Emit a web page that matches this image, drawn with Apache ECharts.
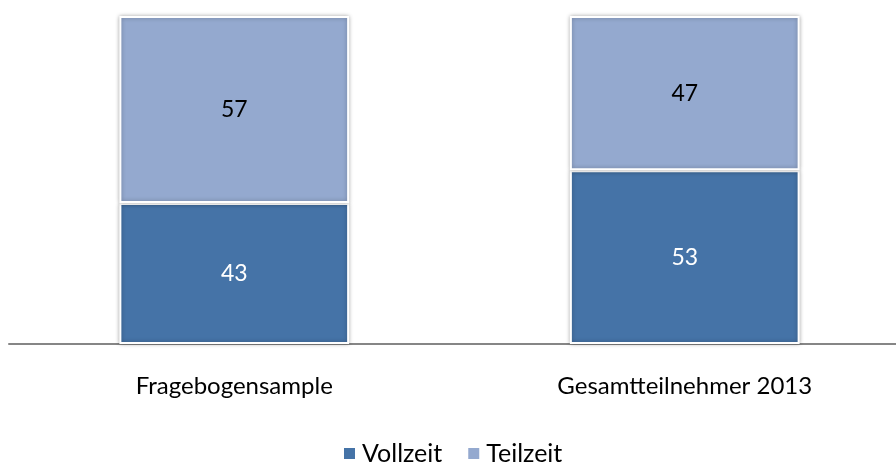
<!DOCTYPE html>
<html>
<head>
<meta charset="utf-8">
<script src="https://cdn.jsdelivr.net/npm/echarts@6/dist/echarts.min.js"></script>
<style>
	html, body { margin: 0; padding: 0; background: #fff; }
	#main { width: 896px; height: 465px; }
</style>
</head>
<body>
<div id="main"></div>
<script>
	// Daten
	let categories = ['Fragebogensample', 'Gesamtteilnehmer 2013'];
	let vollzeit = [43, 53];
	let teilzeit = [57, 47];
	let seriesNames = ['Vollzeit', 'Teilzeit'];

	let font = 'Lato, "Open Sans", sans-serif';
	let main = document.getElementById('main');
	let myChart = echarts.init(main);

	function barItem(color) {
		return {
			color: color,
			borderColor: '#fff',
			borderWidth: 2,
			shadowBlur: 4,
			shadowColor: 'rgba(0,0,0,0.3)'
		};
	}

	let option = {
		animation: false,
		grid: {
			left: 9,
			top: 16,
			width: 901,
			bottom: 121,
			outerBoundsMode: 'none',
			containLabel: false
		},
		legend: {
			bottom: -6,
			left: 337,
			itemWidth: 13,
			itemHeight: 13,
			itemGap: 24,
			icon: 'rect',
			textStyle: { fontFamily: font, fontSize: 25, color: '#000', padding: [0, 0, 0, 1] },
			data: seriesNames
		},
		xAxis: {
			type: 'category',
			data: categories,
			axisLine: { lineStyle: { color: '#868686', width: 2 } },
			axisTick: { show: false },
			axisLabel: { fontFamily: font, fontSize: 24, color: '#000', margin: 30 }
		},
		yAxis: {
			type: 'value',
			min: 0,
			max: 100,
			show: false,
			splitLine: { show: false }
		},
		series: [{
			name: seriesNames[0],
			type: 'bar',
			stack: 'a',
			barWidth: '51%',
			data: vollzeit,
			itemStyle: barItem('#4573A7'),
			label: { show: true, color: '#fff', fontFamily: font, fontSize: 23 }
		}, {
			name: seriesNames[1],
			type: 'bar',
			stack: 'a',
			barWidth: '51%',
			data: teilzeit,
			itemStyle: barItem('#94A9CF'),
			label: { show: true, color: '#000', fontFamily: font, fontSize: 23 }
		}]
	};
	myChart.setOption(option);
</script>
</body>
</html>
